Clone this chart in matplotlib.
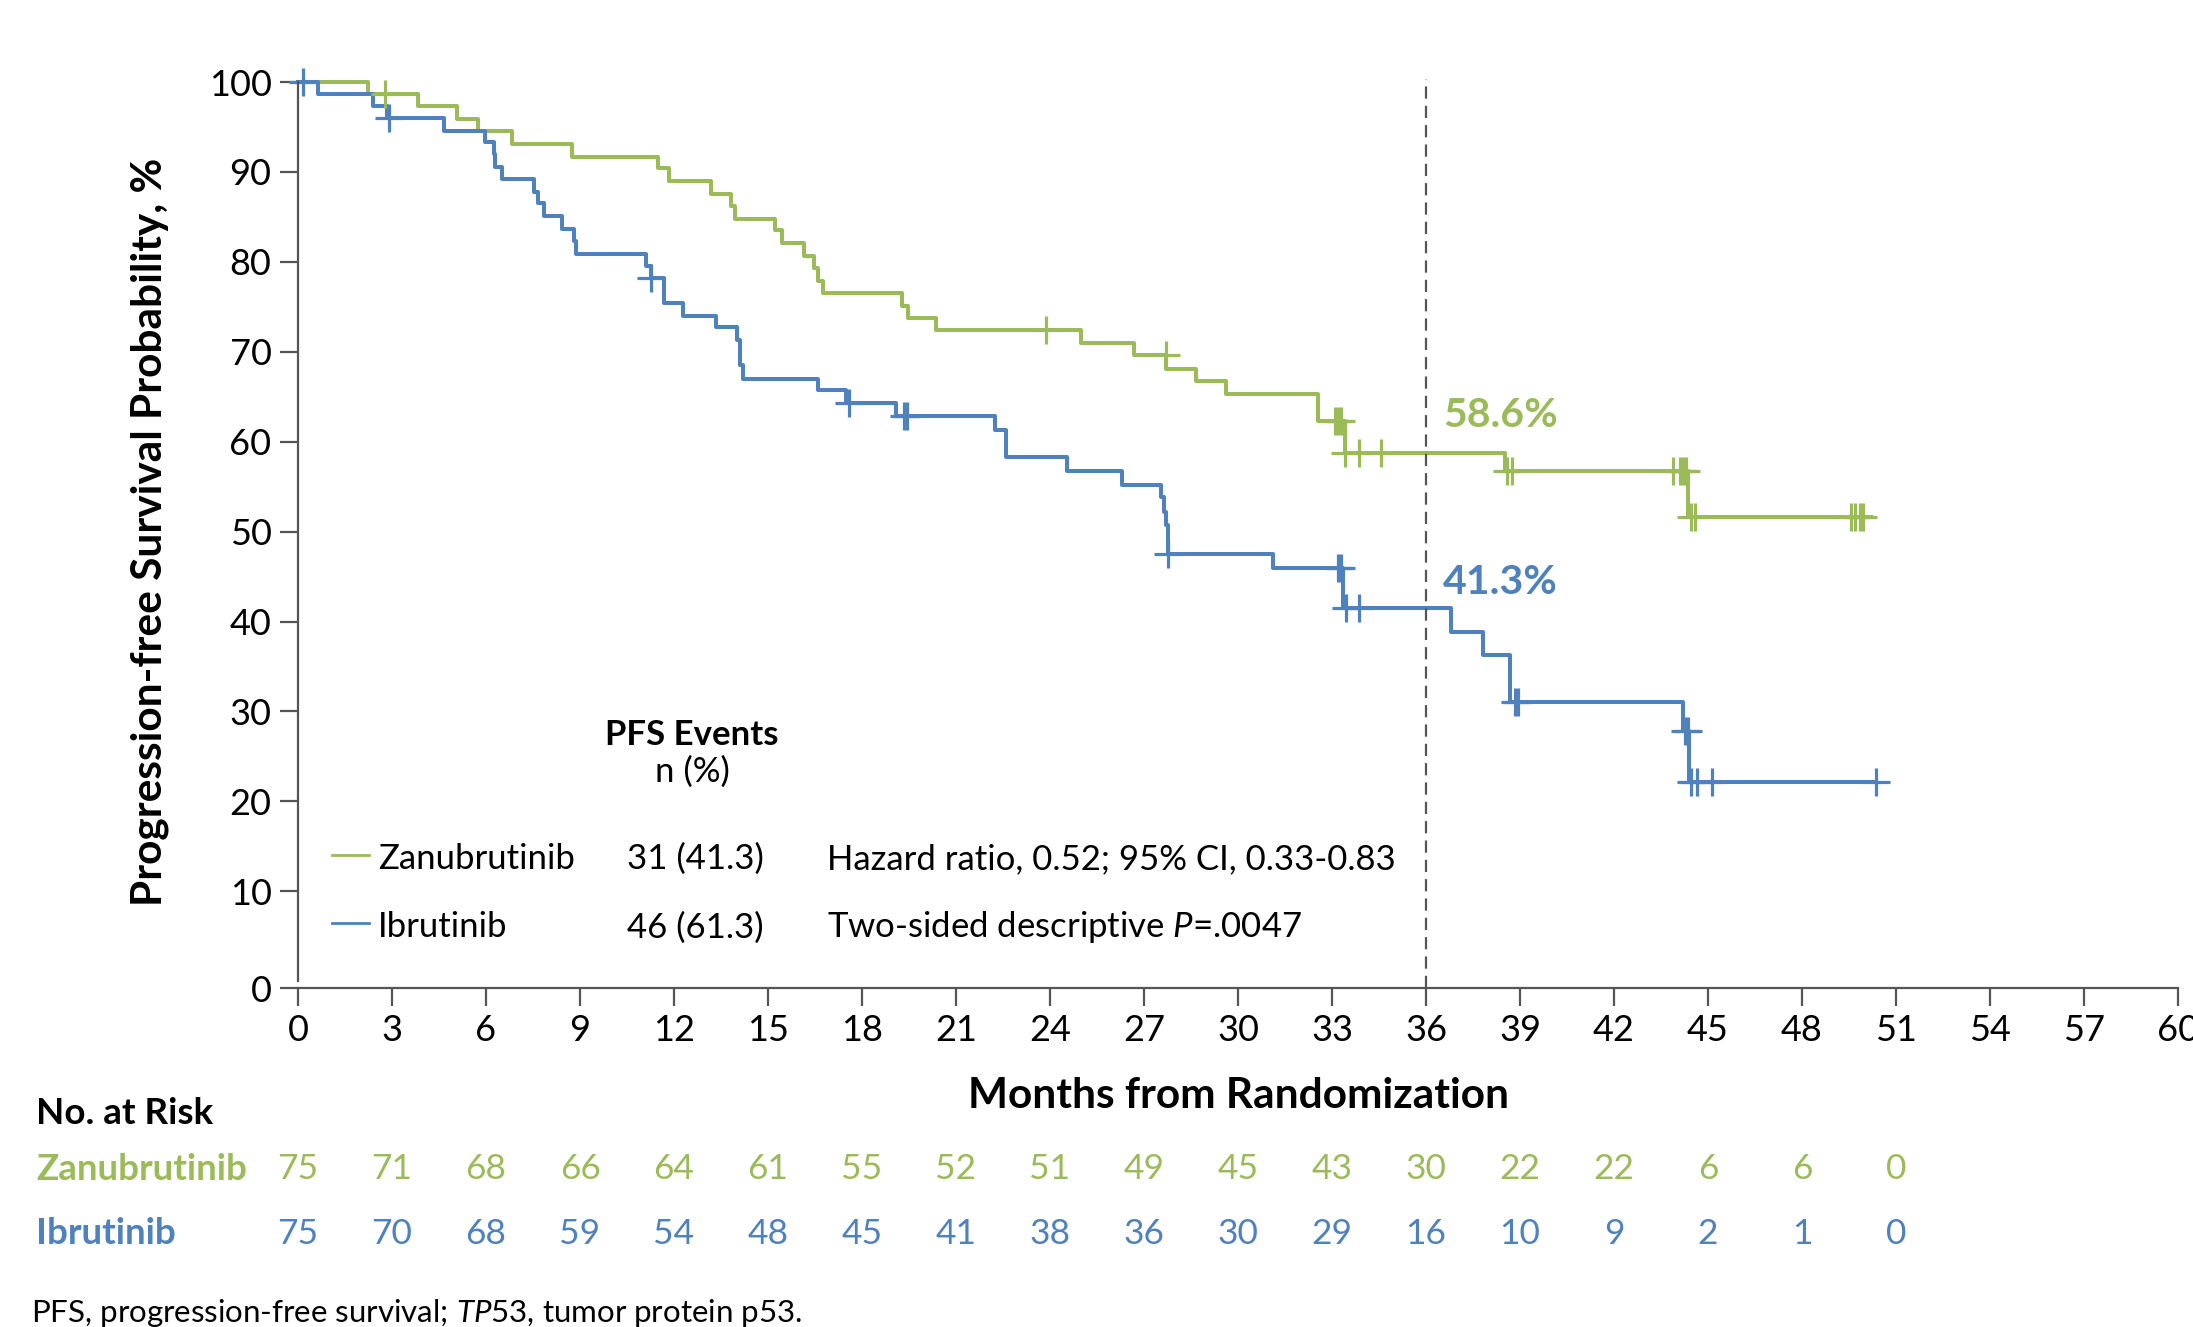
import matplotlib
matplotlib.use("Agg")
import matplotlib.pyplot as plt
from matplotlib.transforms import blended_transform_factory

plt.rcParams['font.family'] = ['Lato', 'DejaVu Sans']
plt.rcParams['mathtext.fontset'] = 'custom'
plt.rcParams['mathtext.rm'] = 'Lato'
plt.rcParams['mathtext.it'] = 'Lato:italic'
plt.rcParams['mathtext.bf'] = 'Lato:bold'

GREEN = '#9bbb59'
BLUE = '#4f81bd'

# Zanubrutinib KM steps (month, survival %)
zan_t = [0, 2.24, 3.82, 5.09, 5.74, 6.84, 8.75, 11.49, 11.84, 13.19, 13.82, 13.96,
         15.22, 15.46, 16.16, 16.47, 16.58, 16.74, 19.27, 19.46, 20.35, 24.98, 26.68,
         27.69, 28.67, 29.61, 32.55, 33.4, 38.53, 44.35, 50.2]
zan_s = [100, 98.7, 97.3, 95.9, 94.6, 93.1, 91.7, 90.4, 89.0, 87.6, 86.2, 84.8,
         83.5, 82.1, 80.7, 79.3, 77.9, 76.5, 75.1, 73.8, 72.4, 71.0, 69.6,
         68.1, 66.7, 65.3, 62.3, 58.7, 56.7, 51.6, 51.6]
zan_cens_t = [2.78, 23.88, 27.7, 33.1, 33.2, 33.3, 33.43, 33.85, 34.56, 38.6, 38.75,
              43.87, 44.1, 44.2, 44.3, 44.45, 44.6, 49.55, 49.7, 49.85, 49.95]
zan_cens_s = [98.7, 72.4, 69.6, 62.3, 62.3, 62.3, 58.7, 58.7, 58.7, 56.7, 56.7,
              56.7, 56.7, 56.7, 56.7, 51.6, 51.6, 51.6, 51.6, 51.6, 51.6]

# Ibrutinib KM steps
ibr_t = [0, 0.64, 2.38, 2.85, 4.66, 5.96, 6.24, 6.30, 6.50, 7.53, 7.67, 7.84, 8.43,
         8.81, 8.88, 11.10, 11.26, 11.68, 12.29, 13.33, 14.0, 14.1, 14.2, 16.6, 17.48,
         19.07, 22.26, 22.6, 24.55, 26.3, 27.53, 27.65, 27.7, 27.76, 31.13, 33.34,
         36.8, 37.83, 38.68, 44.19, 44.4, 50.35]
ibr_s = [100, 98.7, 97.3, 96.0, 94.6, 93.3, 92.0, 90.6, 89.2, 87.8, 86.5, 85.1, 83.7,
         82.3, 80.9, 79.5, 78.2, 75.4, 74.0, 72.7, 71.3, 68.5, 67.0, 65.7, 64.3,
         62.9, 61.3, 58.3, 56.7, 55.2, 53.8, 52.2, 50.7, 47.5, 46.0, 41.5,
         38.8, 36.3, 31.1, 27.8, 22.2, 22.2]
ibr_cens_t = [0.15, 2.9, 11.26, 17.6, 19.35, 19.45, 27.76, 33.2, 33.3, 33.45, 33.85,
              38.85, 38.95, 44.25, 44.35, 44.45, 44.65, 45.13, 50.35]
ibr_cens_s = [100, 96.0, 78.2, 64.3, 62.9, 62.9, 47.5, 46.0, 46.0, 41.5, 41.5,
              31.1, 31.1, 27.8, 27.8, 22.2, 22.2, 22.2, 22.2]

risk_months = list(range(0, 52, 3))
zan_risk = [75, 71, 68, 66, 64, 61, 55, 52, 51, 49, 45, 43, 30, 22, 22, 6, 6, 0]
ibr_risk = [75, 70, 68, 59, 54, 48, 45, 41, 38, 36, 30, 29, 16, 10, 9, 2, 1, 0]

W, H = 2193, 1327
fig = plt.figure(figsize=(W / 100, H / 100), dpi=100)
ax = fig.add_axes([298 / W, 1 - 988 / H, (2178 - 298) / W, 906 / H])

ax.step(zan_t, zan_s, where='post', color=GREEN, lw=2.9, clip_on=False)
ax.step(ibr_t, ibr_s, where='post', color=BLUE, lw=2.9, clip_on=False)
ax.plot(zan_cens_t, zan_cens_s, ls='none', marker='+', ms=20, mew=2.3, color=GREEN, clip_on=False)
ax.plot(ibr_cens_t, ibr_cens_s, ls='none', marker='+', ms=20, mew=2.3, color=BLUE, clip_on=False)

ax.axvline(36, ymin=0, ymax=1.003, color='#555555', lw=1.6, ls=(0, (5.5, 3.2)), clip_on=False)

# x axis sits a little below the 0 % level, as in the original layout
ax.set_xlim(0, 60)
ax.set_ylim(-0.75, 100)
ax.set_xticks(range(0, 61, 3))
ax.set_yticks([-0.75] + list(range(10, 101, 10)))
ax.set_yticklabels([str(v) for v in range(0, 101, 10)])
for s in ['top', 'right']:
    ax.spines[s].set_visible(False)
for s in ['left', 'bottom']:
    ax.spines[s].set_color('#555555')
    ax.spines[s].set_linewidth(1.6)
ax.spines['left'].set_bounds(0, 100)
ax.tick_params(axis='both', length=13, width=1.6, color='#555555', labelsize=26, pad=6)

ax.set_xlabel('Months from Randomization', fontsize=30.5, fontweight='bold', va='center')
ax.xaxis.set_label_coords(0.5, (988 - 1096) / 906)
ax.set_ylabel('Progression-free Survival Probability, %', fontsize=30.5, fontweight='bold',
              va='center', ha='center')
ax.yaxis.set_label_coords((150 - 298) / 1880, 0.504)

# in-plot annotations
ax.text(36.55, 62.9, '58.6%', color=GREEN, fontsize=29.5, fontweight='bold', va='center')
ax.text(36.55, 44.3, '41.3%', color=BLUE, fontsize=29.5, fontweight='bold', va='center')

ax.text(12.58, 27.4, 'PFS Events', fontsize=25, fontweight='bold', ha='center', va='center')
ax.text(12.58, 23.3, 'n (%)', fontsize=25, ha='center', va='center')

ax.plot([1.08, 2.28], [14.0, 14.0], color=GREEN, lw=2)
ax.plot([1.08, 2.28], [6.5, 6.5], color=BLUE, lw=2)
ax.text(2.55, 13.6, 'Zanubrutinib', fontsize=25, va='center')
ax.text(2.55, 6.0, 'Ibrutinib', fontsize=25, va='center')
ax.text(10.5, 13.6, '31 (41.3)', fontsize=25, va='center')
ax.text(10.5, 6.0, '46 (61.3)', fontsize=25, va='center')
ax.text(16.87, 13.6, 'Hazard ratio, 0.52; 95% CI, 0.33-0.83', fontsize=25, va='center')
ax.text(16.87, 6.0, r'Two-sided descriptive $\mathit{P}$=.0047', fontsize=25, va='center')

# number at risk table
trans = blended_transform_factory(ax.transData, fig.transFigure)
fig.text(36 / W, 1 - 1113 / H, 'No. at Risk', fontsize=26.5, fontweight='bold', va='center')
fig.text(36 / W, 1 - 1169 / H, 'Zanubrutinib', fontsize=26.5, fontweight='bold', color=GREEN, va='center')
fig.text(36 / W, 1 - 1234 / H, 'Ibrutinib', fontsize=26.5, fontweight='bold', color=BLUE, va='center')
for m, z, b in zip(risk_months, zan_risk, ibr_risk):
    ax.text(m, 1 - 1169 / H, str(z), transform=trans, fontsize=25.5, color=GREEN, ha='center', va='center')
    ax.text(m, 1 - 1234 / H, str(b), transform=trans, fontsize=25.5, color=BLUE, ha='center', va='center')

fig.text(31 / W, 1 - 1313 / H, r'PFS, progression-free survival; $\mathit{TP53}$, tumor protein p53.',
         fontsize=22.5, va='center')

fig.savefig('out.png', dpi=100)
